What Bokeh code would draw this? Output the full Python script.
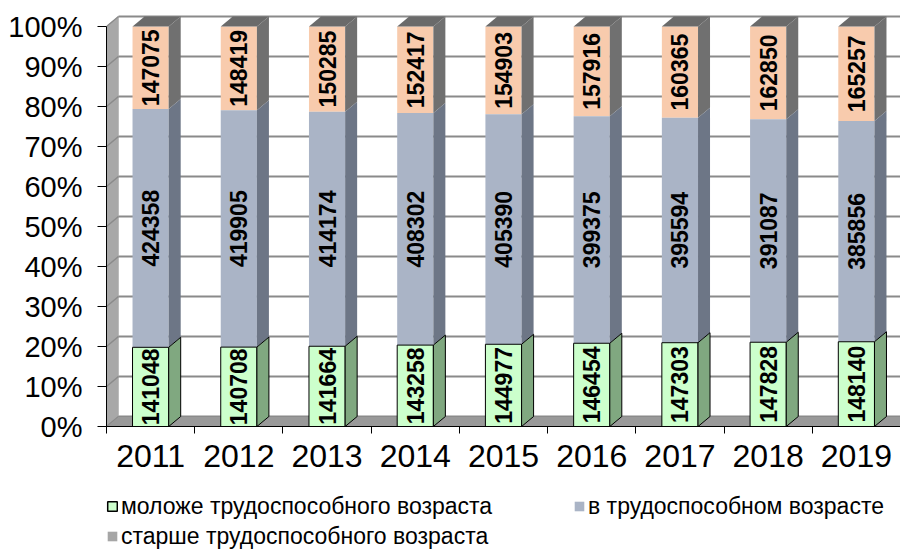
import numpy as np
from bokeh.plotting import figure
from bokeh.layouts import column
from bokeh.models import ColumnDataSource, FixedTicker, Legend, LegendItem, Range1d
from bokeh.embed import file_html
from bokeh.resources import INLINE
from bokeh.core.properties import value

# ---------------- data ----------------
years = ["2011", "2012", "2013", "2014", "2015", "2016", "2017", "2018", "2019"]
young = [141048, 140708, 141664, 143258, 144977, 146454, 147303, 147828, 148140]
working = [424358, 419905, 414174, 408302, 405390, 399375, 395594, 391087, 385856]
old = [147075, 148419, 150285, 152417, 154903, 157916, 160365, 162850, 165257]
series_names = ["моложе трудоспособного возраста",
                "в трудоспособном возрасте",
                "старше трудоспособного возраста"]
y_ticks = [0, 10, 20, 30, 40, 50, 60, 70, 80, 90, 100]
y_tick_labels = ["0%", "10%", "20%", "30%", "40%", "50%", "60%", "70%", "80%", "90%", "100%"]

# ---------------- geometry / style ----------------
FONT = "Liberation Sans"
n = len(years)
FRAME_W, FRAME_H = 794, 414
PX_X = FRAME_W / n          # pixels per category
PX_Y = 4.0                  # pixels per percent
DX = 12 / PX_X              # 3D depth offset (x, data units)
DY = 10 / PX_Y              # 3D depth offset (y, data units)
W = 0.41                    # bar front width (category units)

yo = np.array(young, float)
wo = np.array(working, float)
ol = np.array(old, float)
tot = yo + wo + ol
c1 = yo / tot * 100
c2 = (yo + wo) / tot * 100
c3 = np.full(n, 100.0)
c0 = np.zeros(n)
xc = np.arange(n) + 0.5

src_young = ColumnDataSource(dict(l=xc - W / 2, r=xc + W / 2, b=c0, t=c1))
src_work = ColumnDataSource(dict(l=xc - W / 2, r=xc + W / 2, b=c1, t=c2))
src_old = ColumnDataSource(dict(l=xc - W / 2, r=xc + W / 2, b=c2, t=c3))

C_YOUNG, C_YOUNG_SIDE = "#ccffcc", "#80a880"
C_WORK, C_WORK_SIDE = "#aab4c6", "#6d7686"
C_OLD, C_OLD_SIDE, C_OLD_TOP = "#f8cbad", "#707070", "#6a6a6a"
C_OLD_LEGEND = "#a6a6a6"

p = figure(frame_width=FRAME_W, frame_height=FRAME_H,
           x_range=Range1d(0, n), y_range=Range1d(0, 100 + 14 / PX_Y),
           output_backend="svg", toolbar_location=None,
           min_border_left=106, min_border_right=0, min_border_top=12,
           min_border_bottom=56)
p.outline_line_color = None
p.xgrid.visible = False
p.ygrid.visible = False
p.background_fill_color = "white"
p.border_fill_color = "white"

# ---- walls ----
p.patch([0, DX, DX, 0], [0, DY, 100 + DY, 100], fill_color="#a8a8a8", line_color="#bdbdbd", line_width=1)
gl_xs = [[DX, n + DX] for t in y_ticks]
gl_ys = [[t + DY, t + DY] for t in y_ticks]
p.multi_line(gl_xs, gl_ys, line_color="#8a8a8a", line_width=2)
sl_xs = [[0, DX] for t in y_ticks]
sl_ys = [[t, t + DY] for t in y_ticks]
p.multi_line(sl_xs, sl_ys, line_color="#8a8a8a", line_width=1.5)
p.patch([0, n, n + DX, DX], [0, 0, DY, DY], fill_color="#999999", line_color="#8a8a8a", line_width=1)


def side_patches(bot, top):
    xs = [[x + W / 2, x + W / 2 + DX, x + W / 2 + DX, x + W / 2] for x in xc]
    ys = [[b, b + DY, t + DY, t] for b, t in zip(bot, top)]
    return xs, ys


# ---- old (top segment) ----
p.quad(left="l", right="r", bottom="b", top="t", source=src_old, fill_color=C_OLD, line_color=None)
xs, ys = side_patches(c2, c3)
p.patches(xs, ys, fill_color=C_OLD_SIDE, line_color=None)
top_xs = [[x - W / 2, x - W / 2 + DX, x + W / 2 + DX, x + W / 2] for x in xc]
top_ys = [[t, t + DY, t + DY, t] for t in c3]
p.patches(top_xs, top_ys, fill_color=C_OLD_TOP, line_color=None)

# ---- working ----
p.quad(left="l", right="r", bottom="b", top="t", source=src_work, fill_color=C_WORK, line_color=None)
xs, ys = side_patches(c1, c2)
p.patches(xs, ys, fill_color=C_WORK_SIDE, line_color=None)

# ---- young ----
p.quad(left="l", right="r", bottom="b", top="t", source=src_young, fill_color=C_YOUNG,
       line_color="black", line_width=1)
xs, ys = side_patches(c0, c1)
p.patches(xs, ys, fill_color=C_YOUNG_SIDE, line_color="black", line_width=1)

# ---- data labels ----
lab_x = np.concatenate([xc, xc, xc])
lab_y = np.concatenate([(c0 + c1) / 2, (c1 + c2) / 2, (c2 + c3) / 2])
lab_t = [str(v) for v in young] + [str(v) for v in working] + [str(v) for v in old]
src = ColumnDataSource(dict(x=lab_x, y=lab_y, t=lab_t))
p.text(x="x", y="y", text="t", source=src, angle=np.pi / 2,
       text_align="center", text_baseline="middle",
       text_font=value(FONT), text_font_style="bold", text_font_size="23px",
       text_color="black")

# ---- axes ----
ya = p.yaxis[0]
ya.ticker = FixedTicker(ticks=y_ticks, minor_ticks=[])
ya.major_label_overrides = {t: l for t, l in zip(y_ticks, y_tick_labels)}
ya.bounds = (0, 100)
ya.axis_line_color = "black"
ya.major_tick_line_color = "black"
ya.major_tick_out = 9
ya.major_tick_in = 0
ya.minor_tick_line_color = None
ya.major_label_text_font = FONT
ya.major_label_text_font_size = "29px"
ya.major_label_text_color = "black"
ya.major_label_standoff = 15

xa = p.xaxis[0]
xa.ticker = FixedTicker(ticks=list(xc), minor_ticks=list(range(n + 1)))
xa.major_label_overrides = {float(x): y for x, y in zip(xc, years)}
xa.axis_line_color = "black"
xa.major_tick_line_color = None
xa.minor_tick_line_color = "black"
xa.minor_tick_out = 7
xa.minor_tick_in = 0
xa.major_label_text_font = FONT
xa.major_label_text_font_size = "32px"
xa.major_label_text_color = "black"
xa.major_label_standoff = 11

# ---- legend strip (separate small figure under the chart) ----
# The strip's y range lies above the data, so its proxy bars stay out of view
# while still giving the legend its swatches.
LEG_H = 68
p2 = figure(width=FRAME_W + 106, height=LEG_H, x_range=Range1d(0, n), y_range=Range1d(200, 300),
            output_backend="svg", toolbar_location=None, min_border=0)
p2.axis.visible = False
p2.xgrid.visible = False
p2.ygrid.visible = False
p2.outline_line_color = None
p2.border_fill_color = "white"
g_young = p2.quad(left="l", right="r", bottom="b", top="t", source=src_young,
                  fill_color=C_YOUNG, line_color="black", line_width=1.5)
g_work = p2.quad(left="l", right="r", bottom="b", top="t", source=src_work,
                 fill_color=C_WORK, line_color=None)
g_old = p2.quad(left="l", right="r", bottom="b", top="t", source=src_old,
                fill_color=C_OLD_LEGEND, line_color=None)

legend = Legend(items=[LegendItem(label=series_names[0], renderers=[g_young]),
                       LegendItem(label=series_names[1], renderers=[g_work]),
                       LegendItem(label=series_names[2], renderers=[g_old])],
                ncols=2, location=(0, 0), orientation="horizontal",
                glyph_width=12, glyph_height=12, label_width=450, label_height=28,
                label_standoff=3, spacing=2, padding=0, margin=0,
                label_text_font=FONT, label_text_font_size="23px", label_text_color="black",
                border_line_color=None, background_fill_alpha=0)
p2.add_layout(legend, "center")

open("out.html", "w").write(file_html(column(p, p2), INLINE))
